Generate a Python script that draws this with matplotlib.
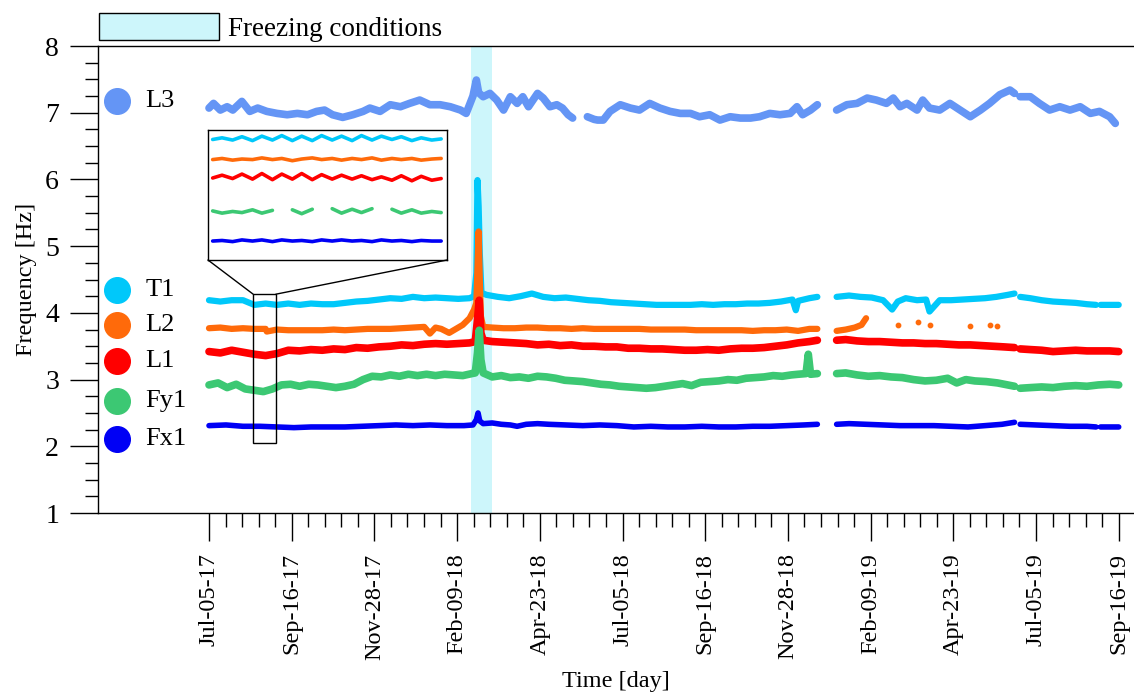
"""
Natural frequencies of the structure, Jul 2017 - Sep 2019.
Daily-tracked modes with a zoomed inset and the freezing period shaded.
"""

import datetime as dt

import matplotlib.pyplot as plt
import numpy as np
from matplotlib.patches import Patch, Rectangle, ConnectionPatch
from matplotlib.ticker import FixedLocator, MultipleLocator, FuncFormatter

plt.rcParams["font.family"] = ["Liberation Serif", "DejaVu Serif"]

START = dt.date(2017, 7, 5)
nan = np.nan

# ---------------------------------------------------------------------------
# data (x = days after Jul-05-17, y = frequency in Hz)
# ---------------------------------------------------------------------------

L3_DAYS = [0, 4, 10, 16, 21, 29, 36, 43, 51, 60, 69, 78, 87, 95, 102, 109, 118,
           127, 136, 142, 151, 160, 169, 177, 186, 195, 204, 213, 222, 227, 233,
           236, 238, 242, 248, 254, 260, 266, 272, 277, 282, 290, 295, 301, 307,
           312, 317, 321, 326, 334, 340, 343, 348, 354, 363, 372, 380, 389, 398,
           407, 416, 425, 433, 442, 451, 460, 469, 478, 486, 495, 504, 513, 519,
           524, 531, 537, 545, 554, 563, 572, 581, 589, 598, 604, 610, 616, 625,
           630, 636, 645, 654, 663, 672, 681, 689, 698, 707, 711, 714, 716, 725,
           733, 742, 751, 760, 769, 778, 786, 795, 800]
L3 = [7.07, 7.14, 7.04, 7.09, 7.04, 7.17, 7.02, 7.07, 7.02, 6.99, 6.97, 6.99,
      6.97, 7.02, 7.04, 6.97, 6.93, 6.97, 7.02, 7.07, 7.02, 7.12, 7.09, 7.14,
      7.19, 7.12, 7.12, 7.09, 7.04, 6.99, 7.25, 7.49, 7.30, 7.24, 7.29, 7.19,
      7.04, 7.24, 7.14, 7.24, 7.09, 7.29, 7.22, 7.09, 7.12, 7.07, 6.97, 6.92,
      nan, 6.94, 6.90, 6.89, 6.89, 7.02, 7.12, 7.07, 7.04, 7.14, 7.07, 7.02,
      6.99, 6.99, 6.94, 6.97, 6.89, 6.94, 6.92, 6.92, 6.94, 6.99, 6.97, 6.99,
      7.09, 6.97, 7.04, 7.12, nan, 7.04, 7.12, 7.14, 7.22, 7.19, 7.14, 7.22,
      7.09, 7.14, 7.04, 7.19, 7.07, 7.04, 7.14, 7.04, 6.94, 7.04, 7.14, 7.27,
      7.34, 7.29, nan, 7.24, 7.24, 7.14, 7.04, 7.09, 7.04, 7.09, 6.99, 7.02,
      6.94, 6.84]

T1_DAYS = [0, 10, 20, 30, 40, 50, 60, 70, 80, 90, 100, 110, 120, 130, 140, 150,
           160, 170, 180, 190, 200, 210, 220, 230, 234, 236, 237, 238, 239, 240.5,
           245, 255, 265, 275, 285, 295, 305, 315, 325, 335, 345, 355, 365, 375,
           385, 395, 405, 415, 425, 435, 445, 455, 465, 475, 485, 495, 505, 515,
           518, 520, 525, 530, 537, 545, 554, 565, 575, 585, 595, 603, 608, 615,
           625, 633, 636, 645, 655, 665, 675, 685, 695, 705, 711, 714, 716, 725,
           735, 745, 755, 765, 775, 783, 785, 787, 795, 803]
T1 = [4.19, 4.17, 4.19, 4.19, 4.12, 4.14, 4.12, 4.14, 4.12, 4.14, 4.13, 4.13,
      4.15, 4.17, 4.18, 4.20, 4.22, 4.21, 4.24, 4.22, 4.23, 4.22, 4.21, 4.22,
      4.25, 4.60, 5.99, 5.60, 4.90, 4.30, 4.27, 4.24, 4.22, 4.25, 4.29, 4.24,
      4.22, 4.23, 4.21, 4.19, 4.18, 4.16, 4.15, 4.14, 4.13, 4.12, 4.12, 4.12,
      4.12, 4.13, 4.12, 4.13, 4.13, 4.14, 4.14, 4.15, 4.17, 4.20, 4.04, 4.18,
      4.20, 4.22, 4.24, nan, 4.24, 4.26, 4.24, 4.23, 4.19, 4.05, 4.17, 4.22,
      4.19, 4.20, 4.02, 4.19, 4.19, 4.20, 4.21, 4.22, 4.24, 4.27, 4.29, nan,
      4.24, 4.22, 4.19, 4.17, 4.16, 4.15, 4.13, 4.12, nan, 4.12, 4.12, 4.12]

L2_DAYS = [0, 10, 20, 30, 40, 50, 51, 60, 70, 80, 90, 100, 110, 120, 130, 140,
           150, 160, 170, 180, 190, 195, 200, 205, 212, 218, 224, 230, 234, 236,
           238, 239, 240, 242, 250, 260, 270, 280, 290, 300, 310, 320, 330, 340,
           350, 360, 370, 380, 390, 400, 410, 420, 430, 440, 450, 460, 470, 480,
           490, 500, 510, 520, 530, 537, 545, 554, 562, 570, 576, 580]
L2 = [3.77, 3.78, 3.76, 3.77, 3.76, 3.76, 3.72, 3.75, 3.74, 3.74, 3.74, 3.74,
      3.75, 3.74, 3.75, 3.76, 3.76, 3.76, 3.77, 3.78, 3.79, 3.69, 3.78, 3.76,
      3.70, 3.76, 3.82, 3.92, 4.05, 4.15, 5.22, 4.50, 3.95, 3.79, 3.78, 3.77,
      3.77, 3.78, 3.78, 3.77, 3.77, 3.76, 3.77, 3.76, 3.76, 3.76, 3.76, 3.76,
      3.75, 3.75, 3.75, 3.75, 3.74, 3.74, 3.74, 3.74, 3.74, 3.73, 3.74, 3.74,
      3.75, 3.73, 3.76, 3.76, nan, 3.73, 3.75, 3.78, 3.82, 3.92]
L2_DOT_DAYS = [608, 626, 636, 672, 689, 696]
L2_DOTS = [3.82, 3.87, 3.82, 3.80, 3.82, 3.80]

L1_DAYS = [0, 10, 20, 30, 40, 50, 60, 70, 80, 90, 100, 110, 120, 130, 140, 150,
           160, 170, 180, 190, 200, 210, 220, 230, 235, 237, 238.5, 240, 242, 250,
           260, 270, 280, 290, 300, 310, 320, 330, 340, 350, 360, 370, 380, 390,
           400, 410, 420, 430, 440, 450, 460, 470, 480, 490, 500, 510, 520, 530,
           537, 545, 554, 562, 572, 582, 592, 602, 612, 622, 632, 642, 652, 662,
           672, 682, 692, 702, 711, 714, 716, 725, 735, 745, 755, 765, 775, 785,
           795, 803]
L1 = [3.42, 3.40, 3.44, 3.41, 3.38, 3.36, 3.39, 3.44, 3.43, 3.45, 3.44, 3.46,
      3.45, 3.48, 3.47, 3.49, 3.50, 3.52, 3.51, 3.53, 3.54, 3.53, 3.54, 3.55,
      3.57, 3.90, 4.19, 3.70, 3.59, 3.57, 3.56, 3.55, 3.54, 3.52, 3.53, 3.51,
      3.52, 3.50, 3.50, 3.49, 3.49, 3.47, 3.47, 3.46, 3.46, 3.45, 3.44, 3.44,
      3.45, 3.44, 3.46, 3.47, 3.47, 3.48, 3.50, 3.52, 3.55, 3.57, 3.59, nan,
      3.59, 3.60, 3.58, 3.57, 3.57, 3.56, 3.55, 3.55, 3.54, 3.54, 3.53, 3.52,
      3.52, 3.51, 3.50, 3.49, 3.48, nan, 3.46, 3.45, 3.44, 3.42, 3.43, 3.44,
      3.43, 3.43, 3.43, 3.42]

FY1_DAYS = [0, 8, 16, 24, 32, 40, 48, 56, 64, 72, 80, 88, 96, 104, 112, 120,
            128, 136, 144, 152, 160, 168, 176, 184, 192, 200, 208, 216, 224, 232,
            235, 237, 238.5, 240, 242, 250, 258, 266, 274, 282, 290, 298, 306,
            314, 322, 330, 338, 346, 354, 362, 370, 378, 386, 394, 402, 410, 418,
            426, 434, 442, 450, 458, 466, 474, 482, 490, 498, 506, 514, 520, 527,
            529, 531, 537, 545, 554, 562, 572, 582, 592, 602, 612, 622, 632, 642,
            652, 660, 668, 676, 686, 696, 705, 711, 714, 716, 725, 735, 745, 755,
            765, 775, 785, 795, 803]
FY1 = [2.92, 2.95, 2.88, 2.93, 2.86, 2.84, 2.82, 2.86, 2.92, 2.93, 2.90, 2.93,
       2.92, 2.90, 2.88, 2.90, 2.93, 3.00, 3.05, 3.04, 3.07, 3.05, 3.08, 3.06,
       3.08, 3.06, 3.08, 3.07, 3.06, 3.09, 3.10, 3.40, 3.74, 3.30, 3.10, 3.04,
       3.06, 3.03, 3.04, 3.02, 3.05, 3.04, 3.02, 2.99, 2.98, 2.97, 2.95, 2.93,
       2.92, 2.90, 2.89, 2.88, 2.87, 2.88, 2.90, 2.92, 2.94, 2.91, 2.96, 2.97,
       2.98, 3.00, 2.99, 3.02, 3.03, 3.04, 3.06, 3.05, 3.07, 3.08, 3.09, 3.38,
       3.08, 3.09, nan, 3.09, 3.10, 3.07, 3.05, 3.06, 3.04, 3.03, 3.00, 2.98,
       2.99, 3.02, 2.95, 3.00, 2.98, 2.97, 2.95, 2.92, 2.90, nan, 2.87, 2.88,
       2.89, 2.88, 2.90, 2.91, 2.90, 2.92, 2.93, 2.92]

FX1_DAYS = [0, 15, 30, 45, 60, 75, 90, 105, 120, 135, 150, 165, 180, 195, 210,
            225, 233, 236, 237.5, 239, 242, 250, 258, 266, 272, 280, 290, 300,
            315, 330, 345, 360, 375, 390, 405, 420, 435, 450, 465, 480, 495, 510,
            525, 537, 545, 554, 565, 580, 595, 610, 625, 640, 655, 670, 685, 700,
            711, 714, 716, 730, 745, 760, 775, 783, 785, 787, 795, 803]
FX1 = [2.31, 2.32, 2.30, 2.30, 2.29, 2.28, 2.29, 2.29, 2.29, 2.30, 2.31, 2.32,
       2.31, 2.32, 2.31, 2.31, 2.32, 2.40, 2.50, 2.38, 2.34, 2.35, 2.33, 2.32,
       2.30, 2.33, 2.34, 2.33, 2.32, 2.31, 2.32, 2.31, 2.29, 2.30, 2.29, 2.29,
       2.30, 2.29, 2.29, 2.30, 2.30, 2.31, 2.32, 2.33, nan, 2.33, 2.34, 2.33,
       2.32, 2.31, 2.31, 2.31, 2.30, 2.29, 2.31, 2.33, 2.36, nan, 2.33, 2.32,
       2.31, 2.30, 2.30, 2.29, nan, 2.29, 2.29, 2.29]

# inset: zoom on days 39-59 (sub-daily oscillations)
INSET_DAYS = [39.2, 40.0, 40.9, 41.7, 42.6, 43.4, 44.3, 45.1, 46.0, 46.8, 47.7,
              48.5, 49.4, 50.2, 51.1, 51.9, 52.8, 53.6, 54.5, 55.3, 56.2, 57.0,
              57.9, 58.7]
INSET_T1 = [4.14, 4.17, 4.13, 4.19, 4.12, 4.20, 4.13, 4.21, 4.12, 4.20, 4.12,
            4.21, 4.13, 4.20, 4.12, 4.21, 4.13, 4.20, 4.14, 4.19, 4.12, 4.17,
            4.13, 4.15]
INSET_L2 = [3.78, 3.80, 3.77, 3.79, 3.78, 3.81, 3.78, 3.80, 3.76, 3.79, 3.81,
            3.78, 3.80, 3.77, 3.80, 3.78, 3.81, 3.77, 3.80, 3.78, 3.80, 3.77,
            3.79, 3.80]
INSET_L1 = [3.45, 3.50, 3.44, 3.52, 3.43, 3.53, 3.42, 3.52, 3.43, 3.53, 3.42,
            3.51, 3.43, 3.50, 3.43, 3.49, 3.42, 3.47, 3.41, 3.49, 3.40, 3.48,
            3.41, 3.44]
INSET_FY1 = [2.86, 2.82, 2.85, 2.83, 2.88, 2.82, 2.87, nan, 2.88, 2.81, 2.89,
             nan, 2.90, 2.82, 2.89, 2.83, 2.90, nan, 2.89, 2.82, 2.88, 2.82,
             2.85, 2.83]
INSET_FX1 = [2.32, 2.33, 2.31, 2.34, 2.32, 2.34, 2.31, 2.34, 2.32, 2.33, 2.31,
             2.34, 2.32, 2.34, 2.32, 2.33, 2.31, 2.34, 2.32, 2.33, 2.31, 2.33,
             2.32, 2.32]
ZOOM_X = (39, 59)
ZOOM_Y = (2.05, 4.28)

FREEZE = (231, 249.5)  # Feb-21-18 .. Mar-11-18

LABELS = ["L3", "T1", "L2", "L1", "Fy1", "Fx1"]
LABEL_Y = [7.18, 4.35, 3.82, 3.28, 2.68, 2.11]

COLORS = {
    "L3": "#6495f5",
    "T1": "#00c8fa",
    "L2": "#ff6a0a",
    "L1": "#ff0000",
    "Fy1": "#3cc873",
    "Fx1": "#0000f5",
}
FREEZE_COLOR = "#cdf6fb"

# ---------------------------------------------------------------------------
# figure
# ---------------------------------------------------------------------------

fig = plt.figure(figsize=(11.34, 6.93), dpi=100)
ax = fig.add_axes([0.0864, 0.2597, 0.9136, 0.6739])

ax.axvspan(*FREEZE, color=FREEZE_COLOR, lw=0, zorder=0)

series = [
    ("L3", L3_DAYS, L3, 5.5),
    ("T1", T1_DAYS, T1, 4.5),
    ("L2", L2_DAYS, L2, 4.5),
    ("L1", L1_DAYS, L1, 5.5),
    ("Fy1", FY1_DAYS, FY1, 5.5),
    ("Fx1", FX1_DAYS, FX1, 4.0),
]
for name, days, vals, lw in series:
    ax.plot(days, vals, color=COLORS[name], lw=lw, solid_joinstyle="round",
            solid_capstyle="round", zorder=2)
ax.scatter(L2_DOT_DAYS, L2_DOTS, s=10, color=COLORS["L2"], zorder=2)

# legend-like circles on the left
for name, y in zip(LABELS, LABEL_Y):
    ax.scatter([-81], [y], s=340, color=COLORS[name], zorder=3, clip_on=False)
    ax.text(-56, y, name, fontsize=19, va="center", ha="left")

# axes styling
ax.set_xlim(-98, 816.5)
ax.set_ylim(1, 8)
ax.spines["right"].set_visible(False)
for side in ["left", "bottom", "top"]:
    ax.spines[side].set_linewidth(1.0)

ax.xaxis.set_major_locator(FixedLocator(np.arange(0, 804, 73)))
ax.xaxis.set_minor_locator(FixedLocator(np.arange(0, 816, 14.6)))
ax.xaxis.set_major_formatter(FuncFormatter(
    lambda x, pos: (START + dt.timedelta(days=int(round(x)))).strftime("%b-%d-%y")))
ax.yaxis.set_major_locator(MultipleLocator(1))
ax.yaxis.set_minor_locator(MultipleLocator(0.25))

ax.tick_params(axis="x", which="major", direction="out", length=20, width=1.0,
               labelsize=17.5, labelrotation=90, pad=9)
ax.tick_params(axis="x", which="minor", direction="out", length=10, width=1.0)
ax.tick_params(axis="y", which="major", direction="out", length=20, width=1.0,
               labelsize=20, pad=8)
ax.tick_params(axis="y", which="minor", direction="out", length=9.5, width=1.0)

ax.set_xlabel("Time [day]", fontsize=17.5, labelpad=8)
ax.set_ylabel("Frequency [Hz]", fontsize=17.5, labelpad=6)

handle = Patch(facecolor=FREEZE_COLOR, edgecolor="black", linewidth=1.0)
ax.legend([handle], ["Freezing conditions"], loc="lower left",
          bbox_to_anchor=(-0.003, 1.0), frameon=False, fontsize=19.5,
          handlelength=4.45, handleheight=1.15, handletextpad=0.3,
          borderaxespad=0.15, borderpad=0.0)

# zoom rectangle and inset
ax.add_patch(Rectangle((ZOOM_X[0], ZOOM_Y[0]), ZOOM_X[1] - ZOOM_X[0],
                       ZOOM_Y[1] - ZOOM_Y[0], fill=False, edgecolor="black",
                       lw=1.0, zorder=4))

ax_in = fig.add_axes([0.1834, 0.6248, 0.2108, 0.1876])
inset_series = [("T1", INSET_T1), ("L2", INSET_L2), ("L1", INSET_L1),
                ("Fy1", INSET_FY1), ("Fx1", INSET_FX1)]
for name, vals in inset_series:
    ax_in.plot(INSET_DAYS, vals, color=COLORS[name], lw=2.6,
               solid_joinstyle="round", solid_capstyle="round")
ax_in.set_xlim(38.8, 59.2)
ax_in.set_ylim(1.98, 4.31)
ax_in.set_xticks([])
ax_in.set_yticks([])
for sp in ax_in.spines.values():
    sp.set_linewidth(1.0)

for xa, xb in [(0, ZOOM_X[0]), (1, ZOOM_X[1])]:
    con = ConnectionPatch(xyA=(xa, 0), coordsA=ax_in.transAxes,
                          xyB=(xb, ZOOM_Y[1]), coordsB=ax.transData,
                          color="black", lw=1.0)
    fig.add_artist(con)

fig.savefig("out.png", dpi=100)
